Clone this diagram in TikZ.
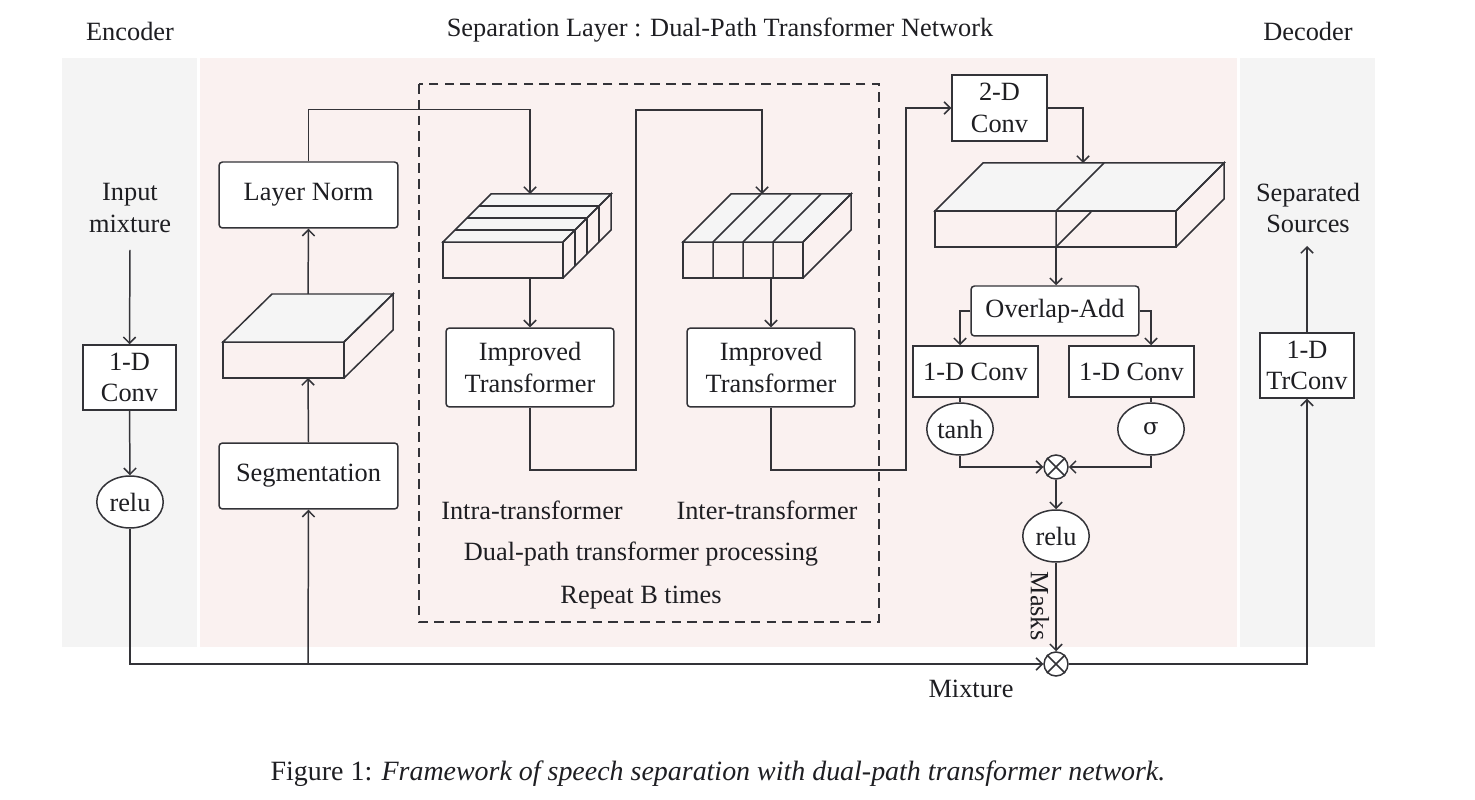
\documentclass[tikz,border=0pt]{standalone}
\usepackage{fontspec}
\setmainfont{Liberation Serif}
\usetikzlibrary{arrows.meta,shapes.geometric}
\definecolor{lc}{HTML}{333338}
\definecolor{tc}{HTML}{1E1E22}
\definecolor{greybg}{HTML}{F4F4F4}
\definecolor{pinkbg}{HTML}{FAF1F0}
\definecolor{topf}{HTML}{F5F5F5}
\newcommand{\fs}{\fontsize{15}{17.8}\selectfont}
\begin{document}
\begin{tikzpicture}[x=0.02cm,y=-0.02cm,
  line/.style={draw=lc, line width=0.85pt},
  arr/.style={line, -{Straight Barb[length=3.5pt,width=7pt]}},
  box/.style={draw=lc, line width=0.85pt, fill=white, inner sep=0pt, font=\fs, text=tc, align=center},
  rbox/.style={box, rounded corners=2pt},
  oval/.style={draw=lc, line width=0.85pt, fill=white, ellipse, inner sep=0pt, font=\fs, text=tc, minimum width=1.33cm, minimum height=1.04cm},
  otim/.style={draw=lc, line width=0.85pt, fill=white, circle, inner sep=0pt, minimum size=0.48cm},
  lbl/.style={font=\fs, text=tc, align=center, inner sep=0pt},
  cube/.style={line, fill=none},
  topface/.style={line, fill=topf}
]
\useasboundingbox (0,0) rectangle (1475,800);
\fill[white] (0,0) rectangle (1475,800);
% backgrounds
\fill[greybg] (62,58) rectangle (197,647);
\fill[pinkbg] (200,58) rectangle (1237,647);
\fill[greybg] (1240,58) rectangle (1375,647);

% titles
\node[lbl] (tenc) at (130,31) {Encoder};
\node[lbl] (tsep) at (720,30) {Separation Layer : Dual-Path Transformer Network};
\node[lbl] (tdec) at (1308,31) {Decoder};

% dashed region
\draw[lc, line width=0.85pt, dash pattern=on 5.5pt off 3.5pt] (419,84) rectangle (879,622);

% Encoder
\node[lbl] (inp) at (130,208) {Input\\mixture};
\coordinate (inpend) at (130,250);
\node[box, minimum width=1.86cm, minimum height=1.30cm] (encconv) at (129.5,377.5) {1-D\\Conv};
\node[oval] (relu1) at (130,502) {relu};

% Segmentation etc.
\node[rbox, minimum width=3.58cm, minimum height=1.32cm] (seg) at (308.5,476) {Segmentation};
\node[rbox, minimum width=3.58cm, minimum height=1.32cm] (ln) at (308.5,195) {Layer Norm};

% segment cube
\draw[cube] (223,342) rectangle (344,378);
\draw[topface] (223,342) -- (272,294) -- (393,294) -- (344,342) -- cycle;
\draw[cube] (344,342) -- (393,294) -- (393,330) -- (344,378);
\coordinate (segtop) at (308,294);
\coordinate (segbot) at (308,378);

% intra cube
\draw[cube] (443,242) rectangle (563,278);
\draw[topface] (443,242) -- (491,194) -- (611,194) -- (563,242) -- cycle;
\draw[cube] (563,242) -- (611,194) -- (611,230) -- (563,278);
\foreach \k in {1,2,3} {
  \draw[line] (443+12*\k,242-12*\k) -- (563+12*\k,242-12*\k) -- (563+12*\k,278-12*\k);
}
\coordinate (intratop) at (530,194);
\coordinate (intrabot) at (530,278);

% inter cube
\draw[cube] (683,242) rectangle (803,278);
\draw[topface] (683,242) -- (731,194) -- (851,194) -- (803,242) -- cycle;
\draw[cube] (803,242) -- (851,194) -- (851,230) -- (803,278);
\foreach \k in {1,2,3} {
  \draw[line] (683+30*\k,278) -- (683+30*\k,242) -- (731+30*\k,194);
}
\coordinate (intertop) at (762,194);
\coordinate (interbot) at (771,278);

% Improved transformers
\node[rbox, minimum width=3.36cm, minimum height=1.58cm] (it1) at (530,367.5) {Improved\\Transformer};
\node[rbox, minimum width=3.36cm, minimum height=1.58cm] (it2) at (771,367.5) {Improved\\Transformer};

\node[lbl] (intra) at (532,510) {Intra-transformer};
\node[lbl] (inter) at (767,510) {Inter-transformer};
\node[lbl] (dpt) at (641,554) {Dual-path transformer processing};
\node[lbl] (rep) at (641,598) {Repeat B times};

% 2-D conv and big cube
\node[box, minimum width=1.90cm, minimum height=1.32cm] (c2d) at (999.5,108) {2-D\\Conv};
\draw[cube] (935,211) rectangle (1176,247);
\draw[topface] (935,211) -- (983,163) -- (1224,163) -- (1176,211) -- cycle;
\draw[cube] (1176,211) -- (1224,163) -- (1224,199) -- (1176,247);
\draw[line] (1056,247) -- (1056,211) -- (1104,163);
\draw[line] (1056,247) -- (1091,212);
\coordinate (bigtop) at (1083,163);
\coordinate (bigbot) at (1056,247);

% mask estimation
\node[rbox, minimum width=3.36cm, minimum height=1.0cm] (oa) at (1055,311) {Overlap-Add};
\node[box, minimum width=2.5cm, minimum height=1.02cm] (convL) at (975.5,371.5) {1-D Conv};
\node[box, minimum width=2.5cm, minimum height=1.02cm] (convR) at (1131.5,371.5) {1-D Conv};
\node[oval] (tanh) at (960,429) {tanh};
\node[oval] (sig) at (1151,429) {\fontspec{DejaVu Serif}\fontsize{13}{15}\selectfont σ};
\node[otim] (ot1) at (1056,467) {};
\draw[line] (ot1.north east) -- (ot1.south west) (ot1.north west) -- (ot1.south east);
\node[oval] (relu2) at (1056,536) {relu};
\node[otim] (ot2) at (1056,664) {};
\draw[line] (ot2.north east) -- (ot2.south west) (ot2.north west) -- (ot2.south east);
\node[lbl] (mix) at (971,689) {Mixture};

% Decoder
\node[box, minimum width=1.88cm, minimum height=1.30cm] (trc) at (1307,365.5) {1-D\\TrConv};
\node[lbl] (sepsrc) at (1308,208) {Separated\\Sources};
\coordinate (sepend) at (1307,246);

% connectors
\draw[arr] (inpend) -- (encconv.north);
\draw[arr] (encconv.south) -- (relu1.north);
\draw[arr] (relu1.south) |- (ot2.west);
\coordinate (mixT) at (308,664);
\draw[arr] (mixT) -- (seg.south);
\draw[arr] (seg.north) -- (segbot);
\draw[arr] (segtop) -- (ln.south);
\draw[arr] (ln.north) -- ++(0,-52) -| (intratop);
\draw[arr] (intrabot) -- (it1.north);
\draw[arr] (it1.south) |- (636,470) -- (636,110) -| (intertop);
\draw[arr] (interbot) -- (it2.north);
\draw[arr] (it2.south) |- (906,470) -- (906,108) -- (c2d.west);
\draw[arr] (c2d.east) -| (bigtop);
\draw[arr] (bigbot) -- (bigbot |- oa.north);
\draw[arr] (oa.west) -| (tanh.north |- convL.north);
\draw[arr] (oa.east) -| (sig.north |- convR.north);
\draw[line] (tanh.north |- convL.south) -- (tanh.north);
\draw[line] (sig.north |- convR.south) -- (sig.north);
\draw[arr] (tanh.south) |- (ot1.west);
\draw[arr] (sig.south) |- (ot1.east);
\draw[arr] (ot1.south) -- (relu2.north);
\draw[arr] (relu2.south) -- (ot2.north);
\node[lbl, rotate=-90] (masks) at (1040,606) {Masks};
\draw[arr] (ot2.east) -| (trc.south);
\draw[arr] (trc.north) -- (sepend);

% caption
\node[lbl, font=\fontsize{15.9}{19}\selectfont] (cap) at (718,774) {Figure 1: \textit{Framework of speech separation with dual-path transformer network.}};
\end{tikzpicture}
\end{document}
